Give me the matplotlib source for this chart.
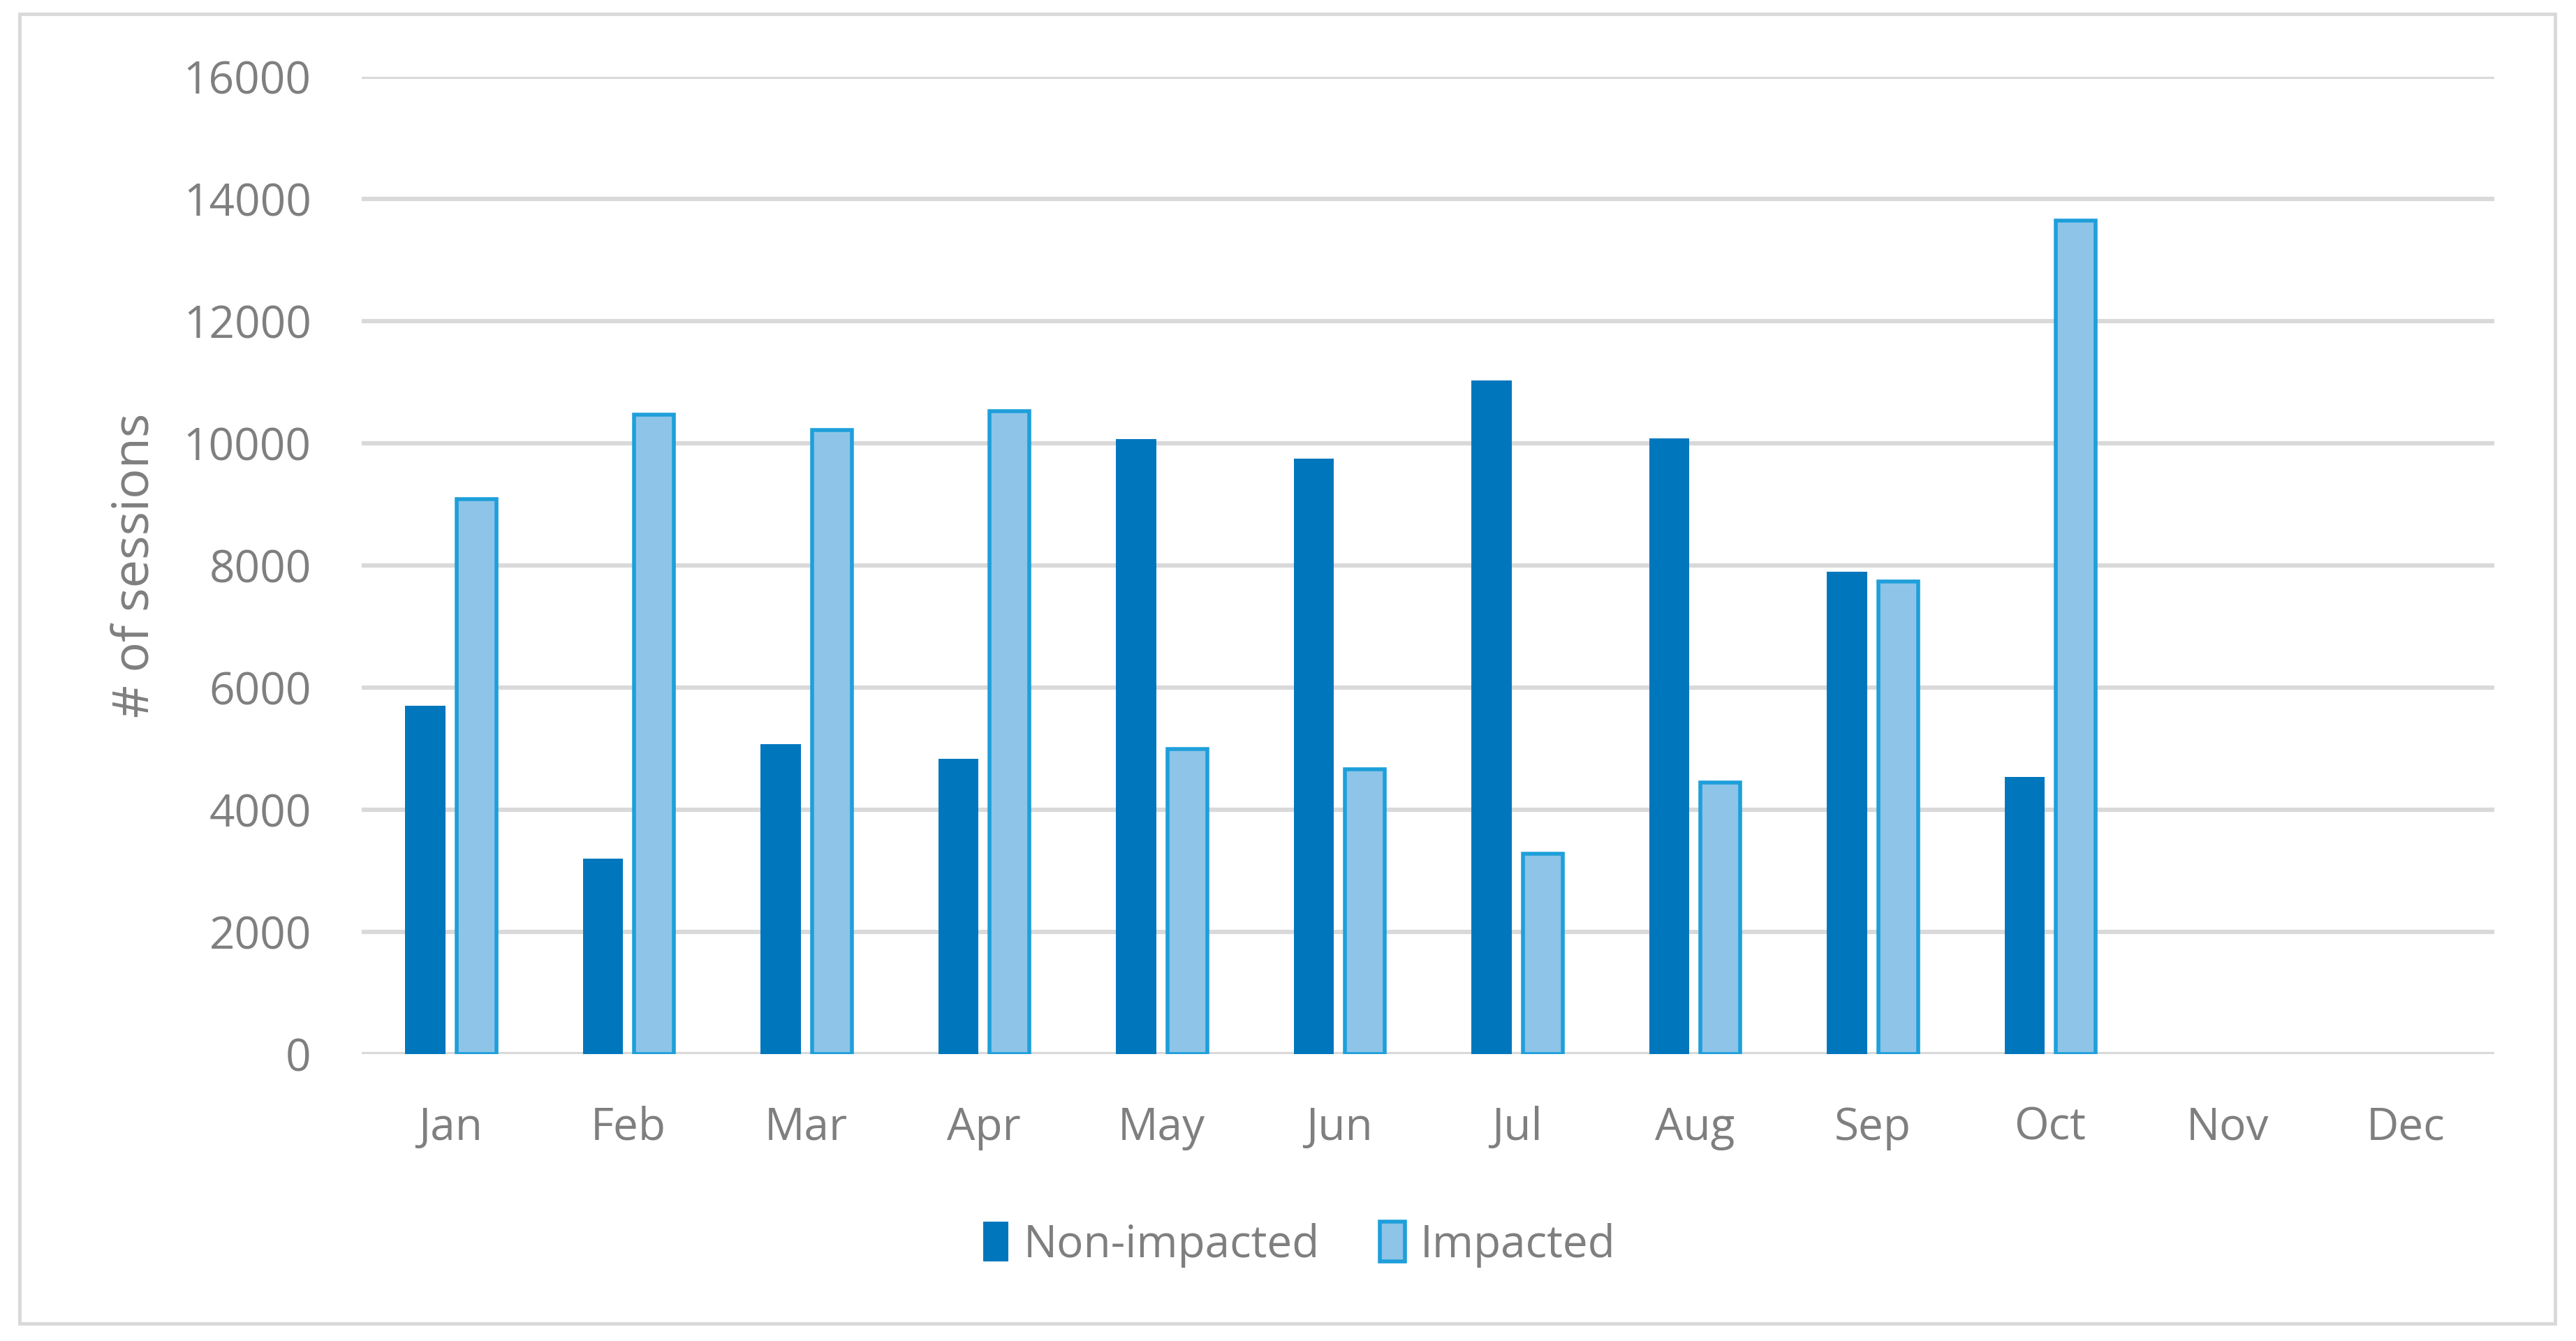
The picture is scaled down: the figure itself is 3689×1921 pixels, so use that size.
import numpy as np
import matplotlib.pyplot as plt
from matplotlib.patches import Rectangle, Patch

# Monthly session counts
months = ['Jan', 'Feb', 'Mar', 'Apr', 'May', 'Jun', 'Jul', 'Aug', 'Sep', 'Oct', 'Nov', 'Dec']
non_impacted = [5700, 3200, 5070, 4830, 10070, 9750, 11030, 10080, 7900, 4540, 0, 0]
impacted = [9090, 10470, 10220, 10520, 4990, 4660, 3280, 4450, 7740, 13650, 0, 0]
yticks = [0, 2000, 4000, 6000, 8000, 10000, 12000, 14000, 16000]

dark_blue = '#0077BD'
light_blue = '#8DC4E8'
edge_blue = '#1E9FDA'
grid_col = '#D9D9D9'
text_col = '#7F7F7F'

plt.rcParams['font.family'] = ['Open Sans', 'DejaVu Sans']

W, H = 3689, 1921
fig = plt.figure(figsize=(W / 100, H / 100), dpi=100)

# outer chart frame
fig.patches.append(Rectangle((28 / W, 1 - 1896 / H), (3659 - 28) / W, (1896 - 20) / H,
                             transform=fig.transFigure, fill=False,
                             edgecolor=grid_col, linewidth=3.5))

ax = fig.add_axes([518 / W, 1 - 1510 / H, (3572 - 518) / W, (1510 - 110) / H])

x = np.arange(len(months))
bw = 0.225
show = [i for i in range(len(months)) if non_impacted[i] > 0 or impacted[i] > 0]
ax.bar(x[show] - 0.142, [non_impacted[i] for i in show], bw, color=dark_blue, zorder=3)
ax.bar(x[show] + 0.145, [impacted[i] for i in show], bw, color=light_blue,
       edgecolor=edge_blue, linewidth=4, zorder=3)

ax.set_xlim(-0.5, 11.5)
ax.set_ylim(0, 16000)
ax.set_yticks(yticks)
ax.set_xticks(x)
ax.set_xticklabels(months)
ax.yaxis.grid(True, color=grid_col, linewidth=4.5, zorder=0)
for s in ax.spines.values():
    s.set_visible(False)
ax.tick_params(axis='both', length=0, labelsize=46, labelcolor=text_col)
ax.tick_params(axis='y', pad=52)
ax.tick_params(axis='x', pad=53)

ax.set_ylabel('# of sessions', fontsize=52, color=text_col)
ax.yaxis.set_label_coords(-0.094, 0.5)

handles = [Patch(facecolor=dark_blue, edgecolor=dark_blue, linewidth=0),
           Patch(facecolor=light_blue, edgecolor=edge_blue, linewidth=4)]
fig.legend(handles, ['Non-impacted', 'Impacted'], loc='center',
           bbox_to_anchor=(0.5045, 1 - 1783 / H), ncol=2, frameon=False,
           fontsize=46, labelcolor=text_col, handlelength=0.55, handleheight=1.0,
           handletextpad=0.35, columnspacing=1.35)

fig.savefig('out.png', dpi=100)
